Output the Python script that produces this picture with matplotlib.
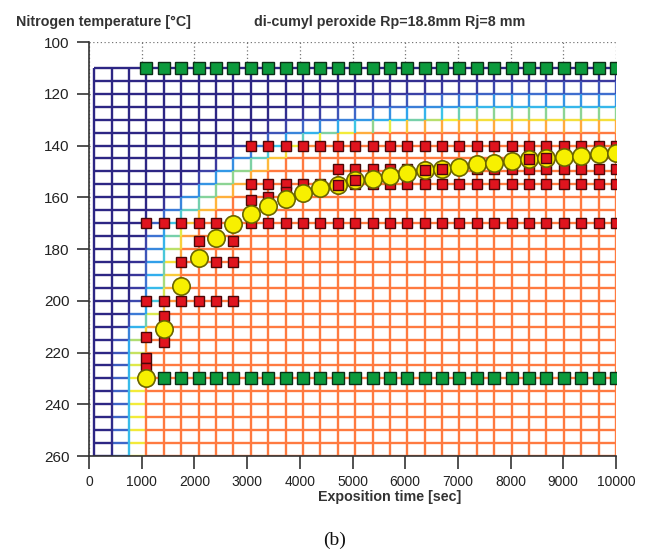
import numpy as np
import matplotlib
matplotlib.use("Agg")
import matplotlib.pyplot as plt
from matplotlib.collections import LineCollection
from matplotlib.colors import LinearSegmentedColormap

# ---- simulation mesh (exposition time x nitrogen temperature) ----
mesh_time = np.linspace(100, 10000, 31)          # sec
mesh_temp = np.arange(110, 261, 5)               # degC

# cure progress profile per temperature: onset time, completion time, plateau level
profile_temp = [110, 115, 120, 125, 130, 135, 140, 145, 150, 160, 170, 185, 200, 215, 230, 260]
onset_time = [5000, 4200, 3800, 3500, 3200, 3000, 2700, 2400, 2000, 1400, 950, 850, 750, 450, 420, 400]
complete_time = [9000, 9000, 8000, 7500, 7000, 5500, 4300, 3800, 3400, 2740, 2100, 1800, 1650, 1150, 1090, 1090]
plateau = [0.0, 0.15, 0.3, 0.5, 0.78, 1.0, 1.0, 1.0, 1.0, 1.0, 1.0, 1.0, 1.0, 1.0, 1.0, 1.0]

# ---- optimal path (yellow) ----
path_time = [1090, 1420, 1750, 2080, 2410, 2740, 3070, 3400, 3730, 4060, 4390, 4720, 5050, 5380,
             5710, 6040, 6370, 6700, 7030, 7360, 7690, 8020, 8350, 8680, 9010, 9340, 9670, 10000]
path_temp = [229.8, 210.9, 194.2, 183.3, 175.6, 170.5, 166.3, 163.2, 160.5, 158.5, 156.6, 155.4, 153.5, 153.1,
             151.9, 150.8, 149.6, 149.2, 148.4, 147.3, 146.9, 146.1, 145.3, 145.0, 144.6, 144.2, 143.4, 143.0]
path_covered = [4720, 5050, 6370, 6700, 8350, 8680]   # nodes overdrawn by a red state

# ---- boundary states (green) ----
green_temp = [110, 230]
green_start = [1090, 1090]
green_end = [10000, 10000]

# ---- candidate states (red) ----
red_temp = [140, 155, 170, 200, 149]
red_start = [3070, 3070, 1090, 1090, 4720]
red_end = [10000, 10000, 10000, 2740, 10000]
red_extra_time = [1090, 1090, 1090, 1420, 1420, 1750, 2080, 2410, 2740, 2740, 3070, 3400, 3730]
red_extra_temp = [214, 222, 226, 206, 216, 185, 177, 185, 177, 185, 161, 160, 158]

x_ticks = list(range(0, 10001, 1000))
y_ticks = list(range(100, 261, 20))

cmap = LinearSegmentedColormap.from_list("cure", [
    (0.00, "#2d2684"), (0.15, "#3b3aa0"), (0.30, "#3f6fd0"), (0.45, "#2fa8ee"),
    (0.55, "#3cc4e8"), (0.65, "#96d68a"), (0.75, "#f2ee3a"), (0.87, "#ffb43c"),
    (1.00, "#ff7a40")])


def progress(t, T):
    on = np.interp(T, profile_temp, onset_time)
    full = np.interp(T, profile_temp, complete_time)
    top = np.interp(T, profile_temp, plateau)
    return top * np.clip((t - on) / (full - on), 0, 1)


plt.rcParams["font.family"] = ["Liberation Sans", "DejaVu Sans"]
fig = plt.figure(figsize=(6.45, 5.53), dpi=100)
ax = fig.add_axes([89 / 645, 1 - 456 / 553, 527 / 645, 414 / 553])

ax.set_xlim(0, 10000)
ax.set_ylim(260, 100)
ax.set_xticks(x_ticks)
ax.set_yticks(y_ticks)
ax.grid(True, linestyle=(0, (1, 2)), color="#777777", linewidth=0.9, zorder=0)
ax.set_axisbelow(True)
for s in ("top", "right"):
    ax.spines[s].set_visible(False)
for s in ("left", "bottom"):
    ax.spines[s].set_color("#333333")
    ax.spines[s].set_linewidth(1.2)
ax.tick_params(direction="out", length=9, width=1.2, color="#333333",
               labelsize=10, labelcolor="#222222", pad=5)
ax.tick_params(axis="y", labelsize=11)

# white faces of the mesh hide the grid underneath
ax.fill_between([mesh_time[0], mesh_time[-1]], mesh_temp[0], mesh_temp[-1],
                color="white", zorder=1, linewidth=0)

segs, vals = [], []
for T in mesh_temp:
    for a, b in zip(mesh_time[:-1], mesh_time[1:]):
        segs.append([(a, T), (b, T)])
        vals.append(progress((a + b) / 2, T))
for t in mesh_time:
    for a, b in zip(mesh_temp[:-1], mesh_temp[1:]):
        segs.append([(t, a), (t, b)])
        vals.append(progress(t, (a + b) / 2))
lc = LineCollection(segs, colors=cmap(np.array(vals)), linewidths=1.7, zorder=2)
ax.add_collection(lc)

red_kw = dict(marker="s", ms=7, mfc="#e0141e", mec="#4a0808", mew=1.0, ls="none")
green_kw = dict(marker="s", ms=8.5, mfc="#0b9a3c", mec="#0b2e16", mew=1.0, ls="none")

for T, a, b in zip(green_temp, green_start, green_end):
    tt = mesh_time[(mesh_time >= a - 1) & (mesh_time <= b + 1)]
    ax.plot(tt, np.full(tt.shape, T), zorder=3, **green_kw)
for T, a, b in zip(red_temp, red_start, red_end):
    tt = mesh_time[(mesh_time >= a - 1) & (mesh_time <= b + 1)]
    ax.plot(tt, np.full(tt.shape, T), zorder=3, **red_kw)
ax.plot(red_extra_time, red_extra_temp, zorder=3, **red_kw)

ax.plot(path_time, path_temp, marker="o", ms=12.5, mfc="#f7f000", mec="#6a6400",
        mew=1.2, ls="none", zorder=4)
cov_t = [t for t in path_time if t in path_covered]
cov_T = [T for t, T in zip(path_time, path_temp) if t in path_covered]
ax.plot(cov_t, cov_T, zorder=5, **red_kw)

fig.text(16 / 645, 1 - 22 / 553, "Nitrogen temperature [°C]", fontsize=10.3,
         fontweight="bold", color="#333333", ha="left", va="center")
fig.text(390 / 645, 1 - 22 / 553, "di-cumyl peroxide Rp=18.8mm Rj=8 mm", fontsize=10.3,
         fontweight="bold", color="#333333", ha="center", va="center")
fig.text(390 / 645, 1 - 497 / 553, "Exposition time [sec]", fontsize=10.3,
         fontweight="bold", color="#333333", ha="center", va="center")
fig.text(335 / 645, 1 - 540 / 553, "(b)", fontsize=14, color="#111111",
         family=["Liberation Serif", "DejaVu Serif"], ha="center", va="center")

fig.savefig("out.png", dpi=100)
